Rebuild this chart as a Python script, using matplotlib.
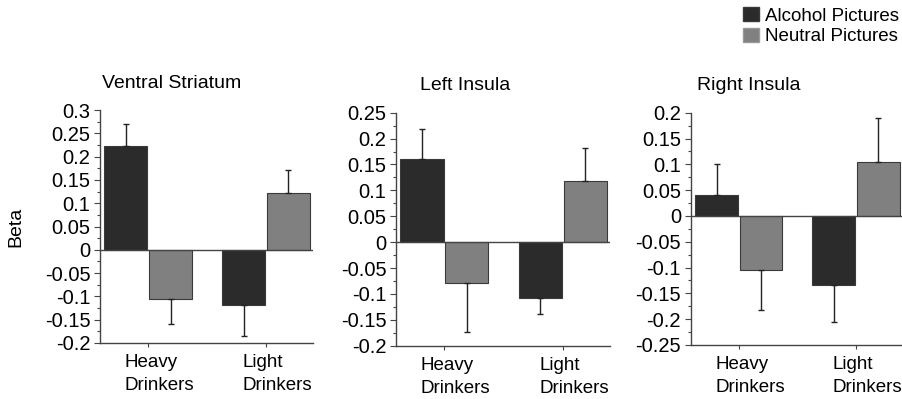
import matplotlib
matplotlib.use("Agg")
import numpy as np
import matplotlib.pyplot as plt
from matplotlib.patches import Patch
from matplotlib.ticker import MultipleLocator
from matplotlib.transforms import ScaledTranslation

plt.rcParams['font.family'] = ['Liberation Sans', 'DejaVu Sans']

# data
groups = ["Heavy\nDrinkers", "Light\nDrinkers"]
regions = ["Ventral Striatum", "Left Insula", "Right Insula"]

alcohol_vs = [0.222, -0.119]
neutral_vs = [-0.105, 0.122]
alcohol_vs_err = [0.048, 0.067]
neutral_vs_err = [0.054, 0.049]

alcohol_li = [0.161, -0.108]
neutral_li = [-0.079, 0.118]
alcohol_li_err = [0.058, 0.030]
neutral_li_err = [0.095, 0.064]

alcohol_ri = [0.041, -0.134]
neutral_ri = [-0.105, 0.105]
alcohol_ri_err = [0.059, 0.071]
neutral_ri_err = [0.078, 0.084]

ylims = [(-0.2, 0.3), (-0.2, 0.25), (-0.25, 0.2)]

dark = "#2b2b2b"
gray = "#808080"
edge = "#3a3a3a"

W, H = 903, 399
fig = plt.figure(figsize=(W / 100, H / 100), dpi=100)

# axes boxes in pixels: left, top, right, bottom
boxes = [(100, 110, 313, 343), (396, 112.7, 610, 345.7), (690.7, 112.7, 903, 345)]
title_x = [0.335, 0.324, 0.272]

alc = [alcohol_vs, alcohol_li, alcohol_ri]
neu = [neutral_vs, neutral_li, neutral_ri]
alc_err = [alcohol_vs_err, alcohol_li_err, alcohol_ri_err]
neu_err = [neutral_vs_err, neutral_li_err, neutral_ri_err]

bw = 0.364
off = 0.19
x = [0, 1]

for i in range(3):
    l, t, r, b = boxes[i]
    ax = fig.add_axes([l / W, 1 - b / H, (r - l) / W, (b - t) / H])
    # errorbars only away from zero
    ae = [[0 if v > 0 else e for v, e in zip(alc[i], alc_err[i])],
          [e if v > 0 else 0 for v, e in zip(alc[i], alc_err[i])]]
    ne = [[0 if v > 0 else e for v, e in zip(neu[i], neu_err[i])],
          [e if v > 0 else 0 for v, e in zip(neu[i], neu_err[i])]]
    ax.bar([p - off for p in x], alc[i], bw, color=dark, edgecolor=edge, linewidth=0.8,
           yerr=ae, error_kw=dict(ecolor="#222222", elinewidth=1, capsize=2.5, capthick=1), zorder=2)
    ax.bar([p + off for p in x], neu[i], bw, color=gray, edgecolor=edge, linewidth=0.8,
           yerr=ne, error_kw=dict(ecolor="#222222", elinewidth=1, capsize=2.5, capthick=1), zorder=2)
    ax.axhline(0, color="#444444", linewidth=1, zorder=3)

    ax.set_xlim(-0.41, 1.40)
    ax.set_ylim(*ylims[i])
    lo, hi = ylims[i]
    yt = np.round(np.arange(lo, hi + 0.001, 0.05), 3) + 0.0
    yt[np.abs(yt) < 1e-9] = 0.0  # no "-0"
    ax.set_yticks(yt)
    ax.set_yticklabels(["0" if abs(v) < 1e-9 else "%g" % v for v in yt])
    ax.yaxis.set_minor_locator(MultipleLocator(0.025))
    for s in ["top", "right"]:
        ax.spines[s].set_visible(False)
    for s in ["left", "bottom"]:
        ax.spines[s].set_color("#444444")
        ax.spines[s].set_linewidth(1)
    ax.tick_params(axis="y", which="major", length=4, width=0.8, labelsize=14.5, pad=3, color="#444444")
    ax.tick_params(axis="y", which="minor", length=2, width=0.8, color="#444444")
    ax.tick_params(axis="x", length=3, width=0.8, labelsize=13.5, pad=5, color="#444444")
    ax.set_xticks(x)
    ax.set_xticklabels(groups, ha="left", linespacing=1.45)
    for lbl in ax.get_xticklabels():
        lbl.set_transform(lbl.get_transform() + ScaledTranslation(-0.235, 0, fig.dpi_scale_trans))
    ax.set_title(regions[i], fontsize=14, x=title_x[i], pad=16)
    if i == 0:
        ax.set_ylabel("Beta", fontsize=14)
        ax.yaxis.set_label_coords(-0.355, 0.5)

handles = [Patch(facecolor=dark, edgecolor=edge, label="Alcohol Pictures"),
           Patch(facecolor=gray, edgecolor="#999999", label="Neutral Pictures")]
fig.legend(handles=handles, loc="upper right", bbox_to_anchor=(899 / W, 1 - 7 / H),
           frameon=False, fontsize=13.5, handlelength=0.85, handleheight=0.8,
           handletextpad=0.3, labelspacing=0.15, borderpad=0, borderaxespad=0)

fig.savefig("out.png", dpi=100)
